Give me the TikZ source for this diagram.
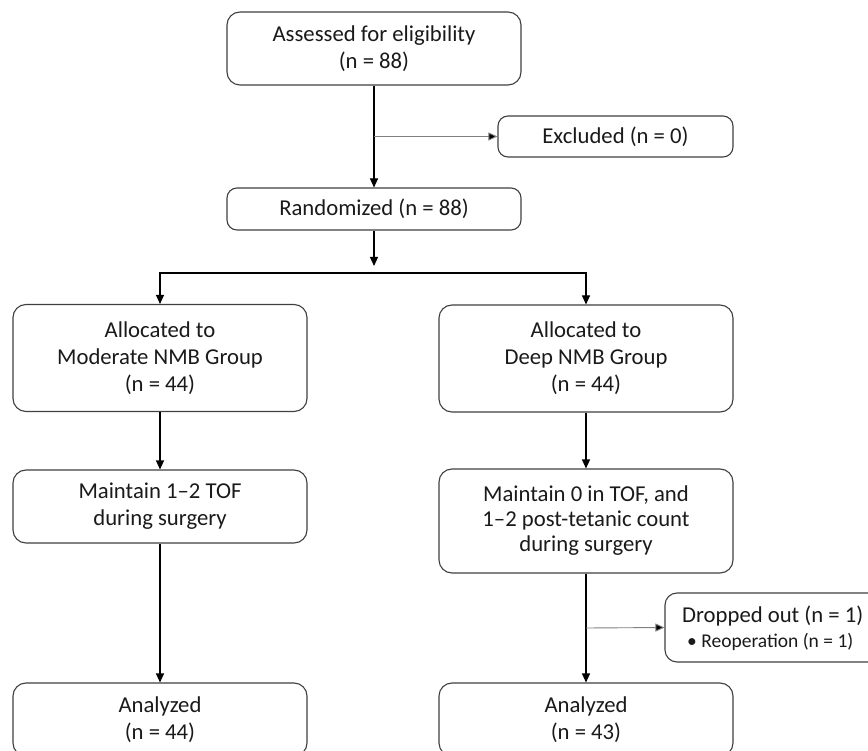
\documentclass[tikz,border=0pt]{standalone}
\usepackage{fontspec}
\setmainfont{Carlito}
\usetikzlibrary{arrows.meta}
\definecolor{boxline}{HTML}{404040}
\definecolor{branchline}{HTML}{808080}
\definecolor{txt}{HTML}{1A1A1A}
\begin{document}
\begin{tikzpicture}[x=1pt,y=-1pt,
  box/.style={draw=boxline, line width=1.1pt, rounded corners=13pt, align=center,
    font=\fontsize{22.7}{27}\selectfont, text=txt, inner sep=0pt},
  arr/.style={line width=1.1pt, -{Triangle[length=9pt,width=8pt]}},
  brarr/.style={draw=branchline, line width=0.9pt, -{Triangle[length=9pt,width=8pt,fill=black]}},
  plain/.style={line width=1.1pt}]
\useasboundingbox (0,0) rectangle (868,751);
\fill[white] (0,0) rectangle (868,751);

\node[box, minimum width=294pt, minimum height=73pt] (assess) at (374,48.5) {Assessed for eligibility\\(n = 88)};
\node[box, rounded corners=10pt, minimum width=235pt, minimum height=41pt] (excl) at (615.5,136.5) {Excluded (n = 0)};
\node[box, rounded corners=10pt, minimum width=294pt, minimum height=42pt] (rand) at (374,209) {Randomized (n = 88)};

\node[box, minimum width=294pt, minimum height=107pt] (allocL) at (160,358) {Allocated to\\Moderate NMB Group\\(n = 44)};
\node[box, minimum width=294pt, minimum height=107pt] (allocR) at (586,358.5) {Allocated to\\Deep NMB Group\\(n = 44)};

\node[box, minimum width=294pt, minimum height=73pt] (maintL) at (160,506.5) {Maintain 1--2 TOF\\during surgery};
\node[box, font=\fontsize{22.7}{25}\selectfont, minimum width=294pt, minimum height=104pt] (maintR) at (586,521) {Maintain 0 in TOF, and\\1--2 post-tetanic count\\during surgery};

\node[box, rounded corners=12pt, minimum width=260pt, minimum height=69pt] (drop) at (795,627.5) {};
\node[anchor=west, align=left, inner sep=0pt, text=txt, font=\fontsize{22.7}{25}\selectfont] (droptext) at (682,628)
  {Dropped out (n = 1)\\{\fontsize{19.5}{22}\selectfont\hspace*{5pt}• Reoperation (n = 1)}};

\node[box, minimum width=294pt, minimum height=73pt] (analL) at (160,719.5) {Analyzed\\(n = 44)};
\node[box, minimum width=294pt, minimum height=73pt] (analR) at (586,719.5) {Analyzed\\(n = 43)};

% connectors
\draw[arr] (assess.south) -- (rand.north);
\coordinate (b1) at (374,136.5);
\draw[brarr] (b1) -- (excl.west);

\coordinate (r1) at (374,266);
\draw[arr] (rand.south) -- (r1);
\coordinate (h) at (374,273);
\draw[arr] (h) -| (allocL.north);
\draw[arr] (h) -| (allocR.north);

\draw[arr] (allocL.south) -- (maintL.north);
\draw[arr] (maintL.south) -- (analL.north);
\draw[arr] (allocR.south) -- (maintR.north);
\draw[arr] (maintR.south) -- (analR.north);

\coordinate (b2) at (586,628);
\draw[brarr] (b2) -- (drop.west);
\end{tikzpicture}
\end{document}
